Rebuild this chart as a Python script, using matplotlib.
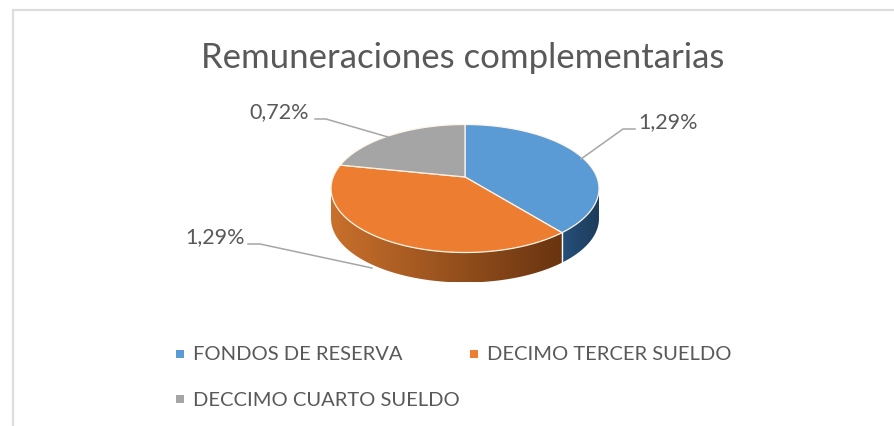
import numpy as np
import matplotlib
matplotlib.use("Agg")
import matplotlib.pyplot as plt
from matplotlib.colors import LinearSegmentedColormap
from matplotlib.patches import Polygon

plt.rcParams["font.family"] = ["Lato", "DejaVu Sans"]

TITLE = "Remuneraciones complementarias"
CATEGORIES = ["FONDOS DE RESERVA", "DECIMO TERCER SUELDO", "DECCIMO CUARTO SUELDO"]
VALUES = [1.29, 1.29, 0.72]
LABELS = ["1,29%", "1,29%", "0,72%"]
COLORS = ["#5B9BD5", "#ED7D31", "#A5A5A5"]
SIDE_LIGHT = ["#26507A", "#C9702C", "#7F7F7F"]
SIDE_DARK = ["#1D3B5A", "#693410", "#555555"]

TEXT_COLOR = "#595959"
LINE_COLOR = "#A6A6A6"
CX, CY = 465, 188.5   # ellipse centre in pixels
RX, RY = 131.8, 64
TILT = 0.18           # perspective, moves the apex up from the ellipse centre
DEPTH = 30


def project(theta):
    # theta runs clockwise from the back of the disc
    x, y = np.sin(theta), np.cos(theta)
    w = 1 + TILT * y
    return CX + RX * x / w, CY - (RY * y + TILT * RY) / w


def rim_limits():
    # angles of the rightmost and leftmost rim points, the wall shows between them
    t = np.linspace(0, 2 * np.pi, 4000)
    px = project(t)[0]
    return t[np.argmax(px)], t[np.argmin(px)]


def main() -> None:
    fig = plt.figure(figsize=(8.94, 4.26), dpi=100)
    ax = fig.add_axes([0, 0, 1, 1])
    ax.axis("off")

    # chart frame, open on the right and at the bottom
    ax.plot([12.5, 12.5, 894], [426, 10, 10], color="#DDDDDD", lw=1.6, solid_joinstyle="miter")

    edges = np.concatenate([[0], np.cumsum(VALUES)]) / sum(VALUES) * 2 * np.pi
    apex = (CX, CY - TILT * RY)
    start, stop = rim_limits()

    # side wall with the shading running left to right
    for i in range(len(VALUES)):
        lo, hi = max(edges[i], start), min(edges[i + 1], stop)
        if hi <= lo:
            continue
        px, py = project(np.linspace(lo, hi, 200))
        outline = np.column_stack([np.r_[px, px[::-1]], np.r_[py, py[::-1] + DEPTH]])
        cmap = LinearSegmentedColormap.from_list("side", [SIDE_LIGHT[i], SIDE_DARK[i]])
        img = ax.imshow(np.linspace(0, 1, 256).reshape(1, -1), cmap=cmap, aspect="auto",
                        extent=[px.min(), px.max(), outline[:, 1].max(), outline[:, 1].min()])
        img.set_clip_path(Polygon(outline, transform=ax.transData))

    # wall seam between blue and orange
    bx, by = project(np.array([edges[1]]))
    ax.plot([bx[0], bx[0]], [by[0], by[0] + DEPTH], color="white", lw=1.0)

    # top surface
    for i in range(len(VALUES)):
        px, py = project(np.linspace(edges[i], edges[i + 1], 200))
        ax.fill(np.r_[apex[0], px], np.r_[apex[1], py], facecolor=COLORS[i],
                edgecolor="#FFF4E6", lw=0.9, joinstyle="round")

    # leader lines
    ax.plot([581, 623, 635], [159, 129, 129], color=LINE_COLOR, lw=1.1)
    ax.plot([315, 326, 388], [119, 119, 137], color=LINE_COLOR, lw=1.1)
    ax.plot([248, 260, 372], [244, 244, 268], color=LINE_COLOR, lw=1.1)

    ax.text(463, 58, TITLE, ha="center", va="center", fontsize=25, color=TEXT_COLOR)
    ax.text(668, 122, LABELS[0], ha="center", va="center", fontsize=15.5, color=TEXT_COLOR)
    ax.text(215, 237, LABELS[1], ha="center", va="center", fontsize=15.5, color=TEXT_COLOR)
    ax.text(279, 112, LABELS[2], ha="center", va="center", fontsize=15.5, color=TEXT_COLOR)

    # legend
    legend_pos = [(176, 354), (470, 354), (176, 399)]
    for (lx, ly), name, col in zip(legend_pos, CATEGORIES, COLORS):
        ax.fill([lx, lx + 8, lx + 8, lx], [ly - 4, ly - 4, ly + 4, ly + 4], color=col, lw=0)
        ax.text(lx + 17, ly + 1, name, ha="left", va="center", fontsize=14.5, color=TEXT_COLOR)

    ax.set_xlim(0, 894)
    ax.set_ylim(426, 0)
    fig.savefig("out.png", dpi=100)
    plt.close(fig)


if __name__ == "__main__":
    main()
